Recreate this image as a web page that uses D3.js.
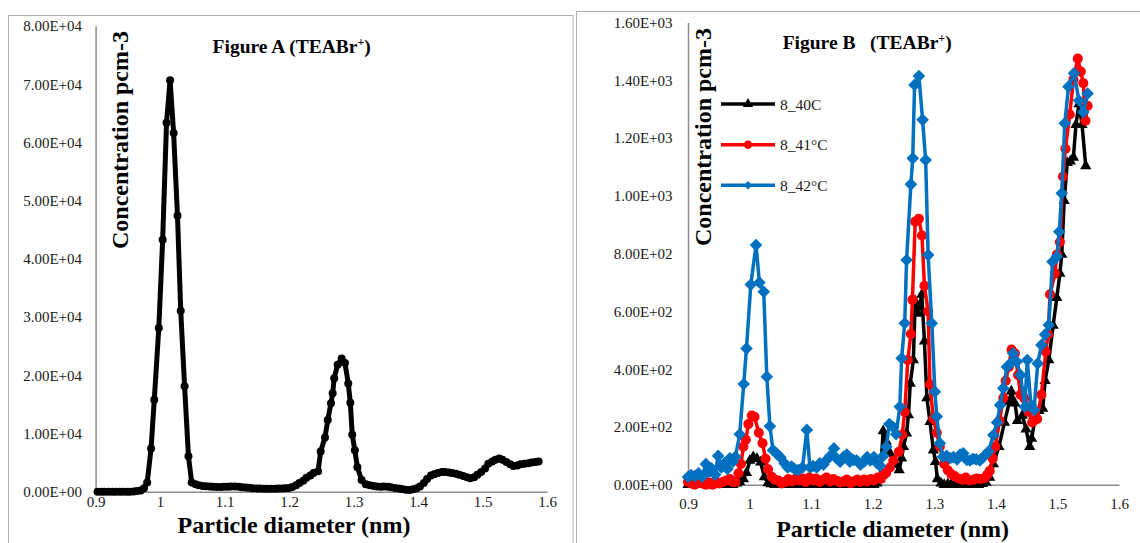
<!DOCTYPE html>
<html><head><meta charset="utf-8">
<script src="https://cdn.jsdelivr.net/npm/d3@7/dist/d3.min.js"></script>
<style>body{margin:0;background:#fff;} svg{display:block;font-family:"Liberation Serif","Times New Roman",serif;}</style>
</head><body>
<svg id="c" width="1140" height="543"></svg>
<script>
// ---------- DATA ----------
const xTickValues = [0.9, 1.0, 1.1, 1.2, 1.3, 1.4, 1.5, 1.6];
const xTickLabels = ["0.9", "1", "1.1", "1.2", "1.3", "1.4", "1.5", "1.6"];
const yTicksA = [0, 10000, 20000, 30000, 40000, 50000, 60000, 70000, 80000];
const yTicksB = [0, 200, 400, 600, 800, 1000, 1200, 1400, 1600];
const seriesNamesB = ["8_40C", "8_41°C", "8_42°C"];

// Figure A
const diamA = [0.903,0.909,0.914,0.920,0.926,0.931,0.937,0.942,0.948,0.953,
0.959,0.964,0.970,0.975,0.980,0.986,0.991,0.998,1.004,1.010,
1.0155,1.021,1.027,1.032,1.038,1.044,1.049,1.055,1.060,1.066,
1.071,1.077,1.082,1.088,1.094,1.099,1.105,1.110,1.116,1.122,
1.127,1.133,1.138,1.144,1.150,1.155,1.161,1.166,1.172,1.178,
1.183,1.189,1.194,1.200,1.205,1.211,1.216,1.222,1.227,1.233,
1.238,1.245,1.249,1.2557,1.260,1.265,1.2676,1.270,1.2753,1.2815,
1.2867,1.2918,1.295,1.298,1.302,1.306,1.3125,1.319,1.325,1.331,
1.336,1.342,1.347,1.353,1.358,1.364,1.370,1.375,1.381,1.387,
1.392,1.398,1.403,1.409,1.414,1.420,1.425,1.431,1.437,1.442,
1.448,1.453,1.459,1.464,1.470,1.476,1.481,1.487,1.492,1.498,
1.504,1.509,1.515,1.520,1.526,1.531,1.537,1.543,1.548,1.554,
1.559,1.565,1.571,1.576,1.582,1.587];
const concA = [0,0,0,0,0,0,0,0,0,0,
50,100,200,600,1600,7400,15800,28100,43300,63400,
70700,61600,47400,31100,18100,6100,1600,1300,1100,1000,
950,900,860,820,820,840,860,880,880,840,
780,720,660,600,560,540,520,510,510,520,
530,550,580,620,800,1100,1500,1900,2400,2800,
3200,3500,6900,9300,12300,15200,16900,19500,21800,22900,
22100,18600,15300,9800,7100,4200,2000,1300,1100,1000,
900,850,900,850,750,650,550,450,350,300,
400,600,900,1500,2200,2800,3000,3200,3400,3400,
3300,3200,3100,2900,2700,2500,2300,2500,2900,3400,
4000,4800,5200,5500,5700,5500,5100,4700,4400,4500,
4700,4800,4900,5000,5100,5200];

// Figure B : 8_40C
const diam40 = [0.900,0.906,0.911,0.917,0.923,0.929,0.934,0.940,0.945,0.951,
0.957,0.962,0.968,0.973,0.979,0.984,0.990,0.995,1.0005,1.006,
1.012,1.018,1.024,1.030,1.035,1.041,1.047,1.052,1.058,1.063,
1.069,1.074,1.080,1.086,1.091,1.097,1.102,1.108,1.114,1.119,
1.125,1.130,1.136,1.142,1.147,1.153,1.158,1.164,1.169,1.175,
1.180,1.186,1.191,1.197,1.202,1.207,1.212,1.217,1.222,1.228,
1.233,1.238,1.243,1.247,1.250,1.255,1.258,1.261,1.266,1.269,
1.274,1.2797,1.284,1.288,1.293,1.2985,1.302,1.305,1.311,1.316,
1.322,1.327,1.333,1.338,1.344,1.350,1.355,1.361,1.366,1.372,
1.378,1.384,1.390,1.396,1.405,1.414,1.422,1.425,1.431,1.435,
1.443,1.449,1.455,1.458,1.464,1.470,1.476,1.480,1.486,1.493,
1.499,1.504,1.507,1.511,1.516,1.521,1.526,1.530,1.535,1.540,
1.546];
const conc40 = [0,3,0,5,0,3,0,5,0,3,
0,5,3,0,5,10,20,42,84,96,
90,78,27,6,3,0,3,0,0,4,
0,3,0,5,0,3,0,4,0,3,
0,5,0,3,0,4,0,3,0,5,
0,3,0,4,0,5,20,186,150,110,
80,69,51,92,132,178,242,351,432,636,
593,659,497,300,218,120,80,20,5,0,
3,0,4,0,3,0,5,0,3,0,
4,8,25,72,132,216,288,324,282,222,
240,192,132,160,232,256,264,360,432,551,
647,731,797,983,1115,1120,1133,1246,1318,1246,
1103];

// Figure B : 8_41°C
const diam41 = [0.900,0.905,0.911,0.917,0.923,0.929,0.934,0.940,0.945,0.951,
0.957,0.962,0.968,0.973,0.977,0.982,0.986,0.990,0.994,0.998,
1.0035,1.008,1.015,1.021,1.026,1.030,1.036,1.041,1.047,1.052,
1.058,1.063,1.069,1.074,1.080,1.086,1.091,1.097,1.103,1.108,
1.114,1.120,1.125,1.131,1.136,1.142,1.147,1.153,1.158,1.164,
1.169,1.175,1.180,1.186,1.191,1.197,1.202,1.208,1.213,1.218,
1.222,1.228,1.2335,1.2425,1.248,1.252,1.257,1.262,1.2645,1.269,
1.275,1.280,1.284,1.290,1.293,1.2985,1.304,1.309,1.316,1.322,
1.328,1.333,1.339,1.346,1.351,1.357,1.364,1.369,1.375,1.382,
1.386,1.390,1.395,1.399,1.406,1.412,1.416,1.421,1.4255,1.431,
1.436,1.440,1.446,1.453,1.459,1.463,1.467,1.474,1.481,1.485,
1.488,1.496,1.499,1.504,1.509,1.513,1.520,1.526,1.533,1.538,
1.542,1.5455,1.549];
const conc41 = [10,5,0,10,5,0,8,0,12,5,
10,15,20,10,10,40,72,132,156,210,
240,235,180,144,90,54,28,18,15,5,
10,20,12,20,15,22,10,25,15,22,
10,18,25,12,20,14,8,12,18,6,
12,18,10,18,12,20,15,25,20,35,
42,60,84,114,174,252,432,522,641,911,
921,863,689,600,348,228,180,132,72,50,
36,30,22,18,25,15,18,22,20,24,
35,48,90,132,222,300,360,408,468,455,
380,312,300,252,216,224,228,312,461,520,
659,731,797,840,1067,1163,1282,1403,1475,1430,
1390,1260,1312];

// Figure B : 8_42°C
const diam42 = [0.900,0.905,0.911,0.917,0.923,0.929,0.934,0.938,0.944,0.949,
0.954,0.959,0.964,0.968,0.973,0.977,0.984,0.9905,0.995,1.002,
1.0105,1.016,1.023,1.028,1.033,1.038,1.044,1.050,1.057,
1.062,1.068,1.073,1.079,1.086,1.093,1.098,1.103,1.109,1.114,
1.120,1.125,1.131,1.137,1.142,1.147,1.153,1.158,1.163,1.169,
1.174,1.180,1.186,1.191,1.196,1.202,1.207,1.212,1.217,1.222,
1.227,1.233,1.238,1.244,1.247,1.252,1.255,1.262,1.265,1.268,
1.275,1.281,1.286,1.290,1.296,1.301,1.304,1.309,1.314,1.320,
1.326,1.331,1.337,1.342,1.347,1.353,1.358,1.363,1.368,1.374,
1.379,1.383,1.388,1.396,1.402,1.407,1.412,1.418,1.424,1.428,
1.434,1.440,1.447,1.451,1.457,1.462,1.468,1.474,1.480,1.486,
1.492,1.499,1.503,1.507,1.512,1.518,1.527,1.535,1.542,1.549];
const conc42 = [27,34,30,40,28,72,45,57,35,100,
60,74,55,92,80,97,175,349,472,693,
830,700,668,374,203,120,108,95,74,
60,63,55,51,60,190,60,65,60,74,
70,86,100,126,90,80,98,105,80,86,
84,70,80,96,84,96,75,66,100,132,
210,200,175,270,438,559,778,1040,1130,1384,
1415,1263,1124,795,559,322,236,144,97,100,
92,96,88,105,109,86,84,90,88,84,
95,103,115,172,216,276,334,408,420,455,
426,380,270,432,276,259,420,484,520,553,
772,790,876,1009,1251,1378,1424,1330,1290,1354];

// ---------- DRAWING ----------
const svg = d3.select("#c");
const FONT = '"Liberation Serif","Times New Roman",serif';
const AXIS_COLOR = "#8c8c8c";
const fmtE = v => {
  const [m, e] = v.toExponential(2).split("e");
  const sign = e[0] === "-" ? "-" : "+";
  const n = Math.abs(parseInt(e, 10));
  return m + "E" + sign + (n < 10 ? "0" + n : "" + n);
};
const zip = (xs, ys) => xs.map((x, i) => [x, ys[i]]);

const diamondSym = { draw(ctx, size) { const r = Math.sqrt(size / 2);
  ctx.moveTo(0, -r); ctx.lineTo(r, 0); ctx.lineTo(0, r); ctx.lineTo(-r, 0); ctx.closePath(); } };

// panel borders
svg.append("rect").attr("x", 8.5).attr("y", 15.5).attr("width", 564.5).attr("height", 560)
  .attr("fill", "none").attr("stroke", "#b0b0b0").attr("stroke-width", 1);
svg.append("rect").attr("x", 576.5).attr("y", 11.5).attr("width", 600).attr("height", 560)
  .attr("fill", "none").attr("stroke", "#b0b0b0").attr("stroke-width", 1);

function drawAxes(g, x, y, yTicks, yPad, xPad) {
  const ya = g.append("g").attr("transform", `translate(${x.range()[0]},0)`)
    .call(d3.axisLeft(y).tickValues(yTicks).tickFormat(fmtE).tickSize(0).tickPadding(yPad));
  const xa = g.append("g").attr("transform", `translate(0,${y.range()[0]})`)
    .call(d3.axisBottom(x).tickValues(xTickValues).tickFormat((d, i) => xTickLabels[i]).tickSize(0).tickPadding(xPad));
  [ya, xa].forEach(a => {
    a.attr("font-family", FONT).attr("font-size", 15);
    a.select(".domain").attr("stroke", AXIS_COLOR).attr("stroke-width", 1.5);
    a.selectAll("text").attr("fill", "#1a1a1a");
  });
}

function title(g, x, y, label) {
  g.append("text").attr("x", x).attr("y", y).attr("font-family", FONT).attr("font-weight", "bold")
    .attr("font-size", 19.5).attr("fill", "#000")
    .call(t => { t.append("tspan").text(label);
      t.append("tspan").attr("font-size", 12).attr("dy", -7).text("+");
      t.append("tspan").attr("dy", 7).text(")"); });
}

// ----- Panel A -----
const xA = d3.scaleLinear().domain([0.9, 1.6]).range([95.6, 547]);
const yA = d3.scaleLinear().domain([0, 80000]).range([491.7, 26]);
const gA = svg.append("g");
drawAxes(gA, xA, yA, yTicksA, 13.6, 4.5);

const dataA = zip(diamA, concA);
gA.append("path").datum(dataA)
  .attr("d", d3.line().x(d => xA(d[0])).y(d => yA(d[1])))
  .attr("fill", "none").attr("stroke", "#000").attr("stroke-width", 5).attr("stroke-linejoin", "round");
gA.selectAll("circle.pt").data(dataA).join("circle").attr("class", "pt")
  .attr("cx", d => xA(d[0])).attr("cy", d => yA(d[1])).attr("r", 4).attr("fill", "#000");

title(gA, 212.6, 53, "Figure A (TEABr");
gA.append("text").attr("transform", "translate(128,140) rotate(-90)").attr("text-anchor", "middle")
  .attr("font-family", FONT).attr("font-weight", "bold").attr("font-size", 24).attr("fill", "#000")
  .text("Concentration pcm-3");
gA.append("text").attr("x", 294).attr("y", 533).attr("text-anchor", "middle")
  .attr("font-family", FONT).attr("font-weight", "bold").attr("font-size", 24).attr("fill", "#000")
  .text("Particle diameter (nm)");

// ----- Panel B -----
const xB = d3.scaleLinear().domain([0.9, 1.6]).range([688, 1119]);
const yB = d3.scaleLinear().domain([0, 1600]).range([484.8, 22.5]);
const gB = svg.append("g");
drawAxes(gB, xB, yB, yTicksB, 15.5, 13.2);

const seriesB = [
  { name: seriesNamesB[0], data: zip(diam40, conc40), color: "#000000", sym: d3.symbolTriangle, size: 55, leg: 45 },
  { name: seriesNamesB[1], data: zip(diam41, conc41), color: "#FF0000", sym: d3.symbolCircle, size: 80, leg: 55 },
  { name: seriesNamesB[2], data: zip(diam42, conc42), color: "#0070C0", sym: diamondSym, size: 80, leg: 36 }
];
const lineB = d3.line().x(d => xB(d[0])).y(d => yB(d[1]));
seriesB.forEach(s => {
  const g = gB.append("g");
  g.append("path").datum(s.data).attr("d", lineB).attr("fill", "none")
    .attr("stroke", s.color).attr("stroke-width", 3.5).attr("stroke-linejoin", "round");
  g.selectAll("path.m").data(s.data).join("path").attr("class", "m")
    .attr("transform", d => `translate(${xB(d[0])},${yB(d[1])})`)
    .attr("d", d3.symbol().type(s.sym).size(s.size)).attr("fill", s.color);
});

// legend
const legY = [104, 144.7, 185.2];
seriesB.forEach((s, i) => {
  const g = gB.append("g").attr("transform", `translate(0,${legY[i]})`);
  g.append("line").attr("x1", 721).attr("x2", 775).attr("stroke", s.color).attr("stroke-width", 3.5);
  g.append("path").attr("transform", "translate(748,0)")
    .attr("d", d3.symbol().type(s.sym).size(s.leg)).attr("fill", s.color);
  g.append("text").attr("x", 780).attr("y", 5.5).attr("font-family", FONT).attr("font-size", 15.5)
    .attr("fill", "#1a1a1a").text(s.name);
});

title(gB, 782.7, 49, "Figure B\u00a0\u00a0 (TEABr");
gB.append("text").attr("transform", "translate(711,137) rotate(-90)").attr("text-anchor", "middle")
  .attr("font-family", FONT).attr("font-weight", "bold").attr("font-size", 24).attr("fill", "#000")
  .text("Concentration pcm-3");
gB.append("text").attr("x", 892.6).attr("y", 537).attr("text-anchor", "middle")
  .attr("font-family", FONT).attr("font-weight", "bold").attr("font-size", 24).attr("fill", "#000")
  .text("Particle diameter (nm)");
</script>
</body></html>
